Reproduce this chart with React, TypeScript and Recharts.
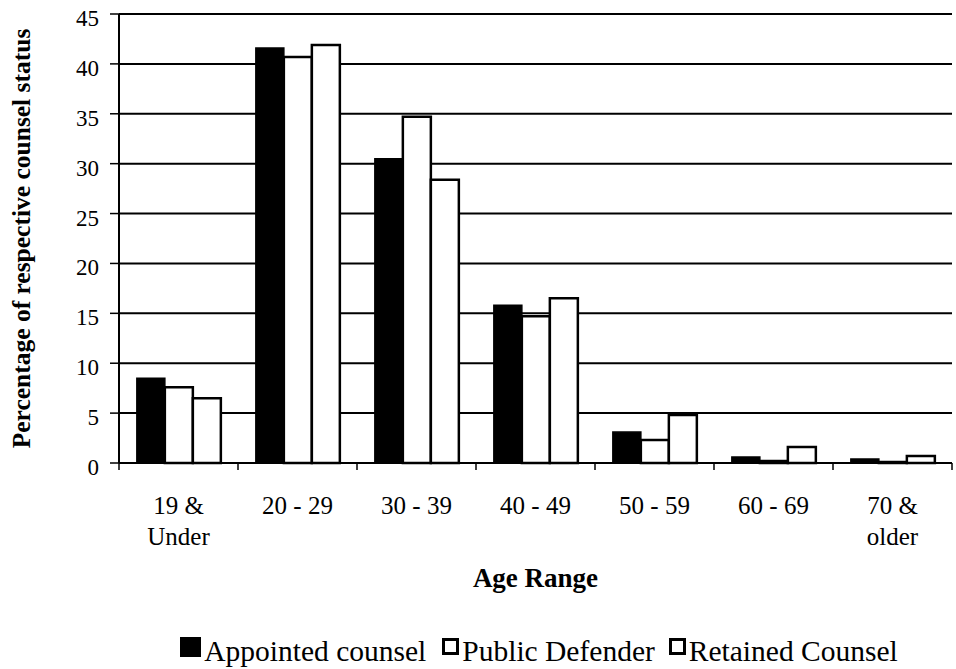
import { BarChart, Bar, XAxis, YAxis, CartesianGrid, Legend } from "recharts";

// age bands, two-line labels split on "\n"
const ageRanges = ["19 &\nUnder", "20 - 29", "30 - 39", "40 - 49", "50 - 59", "60 - 69", "70 &\nolder"];
const appointedCounsel = [8.5, 41.6, 30.5, 15.8, 3.1, 0.6, 0.4];
const publicDefender = [7.6, 40.7, 34.7, 14.7, 2.3, 0.2, 0.1];
const retainedCounsel = [6.5, 41.9, 28.4, 16.5, 4.8, 1.6, 0.7];
const yTicks = [0, 5, 10, 15, 20, 25, 30, 35, 40, 45];

const seriesNames = ["Appointed counsel", "Public Defender", "Retained Counsel"];

const data = ageRanges.map((age, i) => ({
  age,
  appointed: appointedCounsel[i],
  publicDef: publicDefender[i],
  retained: retainedCounsel[i],
}));

const FONT = "'Liberation Serif', 'Times New Roman', serif";

// category label plus the little tick marks at the band edges
function AgeTick({ x, y, payload }: any) {
  const lines = String(payload.value).split("\n");
  const half = payload.offset ?? 0;
  const last = payload.index === ageRanges.length - 1;
  return (
    <g transform={`translate(${x},${y})`}>
      <line x1={-half} x2={-half} y1={0} y2={7} stroke="#000" strokeWidth={1.5} />
      {last && <line x1={half} x2={half} y1={0} y2={7} stroke="#000" strokeWidth={1.5} />}
      <text textAnchor="middle" fontFamily={FONT} fontSize={25} fill="#000">
        {lines.map((l, i) => (
          <tspan key={i} x={0} dy={i === 0 ? 51 : 31}>
            {l}
          </tspan>
        ))}
      </text>
    </g>
  );
}

function YTick({ x, y, payload }: any) {
  return (
    <text x={x} y={y} dy={12} textAnchor="end" fontFamily={FONT} fontSize={23} fill="#000">
      {payload.value}
    </text>
  );
}

function LegendBox() {
  const fills = ["#000", "#fff", "#fff"];
  return (
    <div
      style={{
        display: "flex",
        justifyContent: "center",
        alignItems: "center",
        fontFamily: FONT,
        fontSize: 29.5,
        color: "#000",
        paddingLeft: 140,
        paddingTop: 6,
        whiteSpace: "nowrap",
      }}
    >
      {seriesNames.map((name, i) => (
        <span key={name} style={{ display: "flex", alignItems: "center", marginRight: i === 0 ? 16 : 14 }}>
          <span
            style={{
              display: "inline-block",
              width: i === 0 ? 21 : 17,
              height: i === 0 ? 20 : 17,
              background: fills[i],
              border: "3px solid #000",
              marginRight: 3,
              boxSizing: "border-box",
              position: "relative",
              top: -5,
            }}
          />
          {name}
        </span>
      ))}
    </div>
  );
}

export default function App() {
  return (
    <div style={{ position: "absolute", left: 0, top: 0, background: "#fff" }}>
      <BarChart
        width={956}
        height={669}
        data={data}
        margin={{ top: 14, right: 4, left: 0, bottom: 0 }}
        barCategoryGap="15%"
        barGap={0}
      >
        <CartesianGrid vertical={false} stroke="#000" strokeWidth={2} />
        <XAxis
          dataKey="age"
          height={166}
          interval={0}
          tickLine={false}
          tickSize={0}
          tickMargin={0}
          axisLine={false}
          tick={<AgeTick />}
          label={{
            value: "Age Range",
            position: "insideTop",
            offset: 105,
            style: { fontFamily: FONT, fontSize: 27, fontWeight: "bold", fill: "#000" },
          }}
        />
        <YAxis
          width={119}
          domain={[0, 45]}
          ticks={yTicks}
          interval={0}
          axisLine={{ stroke: "#000", strokeWidth: 2 }}
          tickLine={{ stroke: "#000", strokeWidth: 1.5 }}
          tickSize={9}
          tickMargin={11}
          tick={<YTick />}
          label={{
            value: "Percentage of respective counsel status",
            angle: -90,
            position: "insideLeft",
            offset: 21,
            style: { fontFamily: FONT, fontSize: 25.5, fontWeight: "bold", fill: "#000", textAnchor: "middle" },
          }}
        />
        <Legend verticalAlign="bottom" height={40} content={<LegendBox />} />
        <Bar dataKey="appointed" name={seriesNames[0]} fill="#000" stroke="#000" strokeWidth={1.5} isAnimationActive={false} />
        <Bar dataKey="publicDef" name={seriesNames[1]} fill="#fff" stroke="#000" strokeWidth={2.5} isAnimationActive={false} />
        <Bar dataKey="retained" name={seriesNames[2]} fill="#fff" stroke="#000" strokeWidth={2.5} isAnimationActive={false} />
      </BarChart>
    </div>
  );
}
